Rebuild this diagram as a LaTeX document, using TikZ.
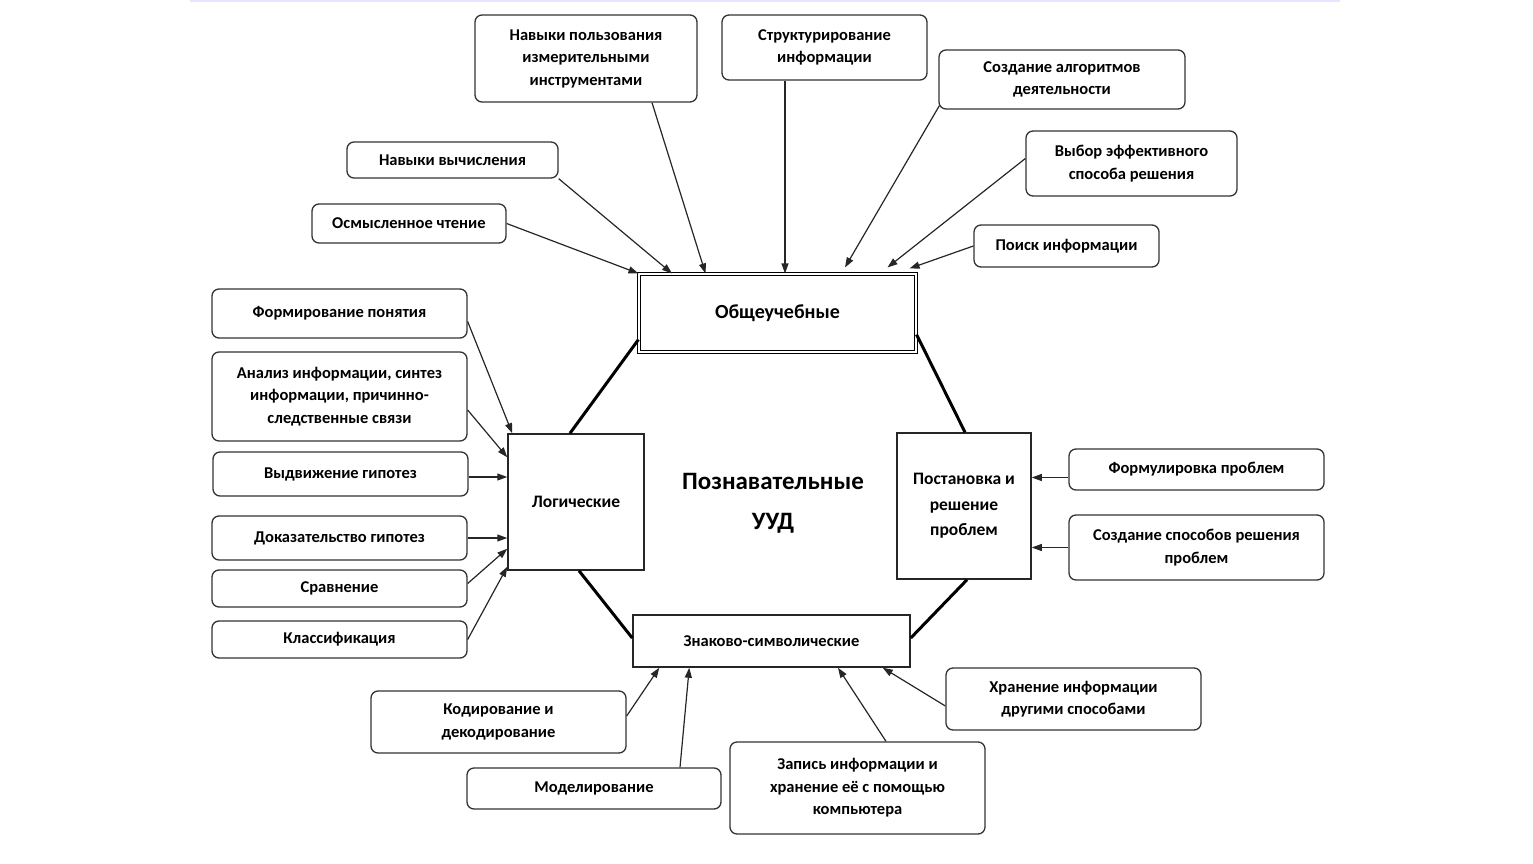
\documentclass[tikz,border=0pt]{standalone}
\usepackage{fontspec}
\setmainfont{Carlito}
\usetikzlibrary{arrows.meta}
\begin{document}
\begin{tikzpicture}[x=1pt,y=-1pt,
  rbox/.style={draw=black!80,line width=1.3pt,rounded corners=7pt,align=center,
    font=\bfseries\fontsize{16.5}{22.5}\selectfont,inner sep=2pt},
  sbox/.style={draw=black!85,line width=1.5pt,align=center,
    font=\bfseries\fontsize{17.5}{25.5}\selectfont,inner sep=2pt},
  arr/.style={draw=black!85,line width=1.2pt,-{Triangle[length=10pt,width=7pt]}},
  thick line/.style={draw=black,line width=3pt}]
\useasboundingbox (0,0) rectangle (1533,864);
\draw[line width=2pt,blue!10] (190,1) -- (1340,1);
% top group
\node[rbox,minimum width=222,minimum height=87] (n1) at (586,58.5) {Навыки пользования\\измерительными\\инструментами};
\node[rbox,minimum width=205,minimum height=65] (n2) at (824.5,47.5) {Структурирование\\информации};
\node[rbox,minimum width=246,minimum height=59] (n3) at (1062,79.5) {Создание алгоритмов\\деятельности};
\node[rbox,minimum width=211,minimum height=65] (n4) at (1131.5,163.5) {Выбор эффективного\\способа решения};
\node[rbox,minimum width=185,minimum height=42] (n5) at (1066.5,246) {Поиск информации};
\node[rbox,minimum width=211,minimum height=36] (n6) at (452.5,160) {Навыки вычисления};
\node[rbox,minimum width=194,minimum height=39] (n7) at (409,223.5) {Осмысленное чтение};
\node[draw=black,line width=1.1pt,double=white,double distance=2.2pt,minimum width=277,minimum height=78,
  font=\bfseries\fontsize{20}{24}\selectfont] (obs) at (777.5,313) {Общеучебные};
% left group
\node[rbox,minimum width=255,minimum height=49] (f1) at (339.5,313.5) {Формирование понятия};
\node[rbox,minimum width=255,minimum height=89] (f2) at (339.5,396.5) {Анализ информации, синтез\\информации, причинно-\\следственные связи};
\node[rbox,minimum width=255,minimum height=44] (f3) at (340.5,474) {Выдвижение гипотез};
\node[rbox,minimum width=255,minimum height=44] (f4) at (339.5,538) {Доказательство гипотез};
\node[rbox,minimum width=255,minimum height=37] (f5) at (339.5,588.5) {Сравнение};
\node[rbox,minimum width=255,minimum height=37] (f6) at (339.5,639.5) {Классификация};
\node[sbox,minimum width=136,minimum height=136] (log) at (576,502) {Логические};
% centre
\node[align=center,font=\bfseries\fontsize{25}{40}\selectfont] (cen) at (773,503) {Познавательные\\УУД};
% right group
\node[sbox,minimum width=134,minimum height=146] (pos) at (964,506) {Постановка и\\решение\\проблем};
\node[rbox,minimum width=255,minimum height=41] (p1) at (1196.5,469.5) {Формулировка проблем};
\node[rbox,minimum width=255,minimum height=65] (p2) at (1196.5,547.5) {Создание способов решения\\проблем};
% bottom group
\node[sbox,minimum width=277,minimum height=52,font=\bfseries\fontsize{16.5}{22}\selectfont] (zn) at (771.5,641) {Знаково-символические};
\node[rbox,minimum width=255,minimum height=62] (z1) at (498.5,722) {Кодирование и\\декодирование};
\node[rbox,minimum width=254,minimum height=41] (z2) at (594,788.5) {Моделирование};
\node[rbox,minimum width=255,minimum height=92] (z3) at (857.5,788) {Запись информации и\\хранение её с помощью\\компьютера};
\node[rbox,minimum width=255,minimum height=62] (z4) at (1073.5,699) {Хранение информации\\другими способами};
% hexagon
\draw[thick line] ([yshift=13]obs.south west) -- ([xshift=-6]log.north);
\draw[thick line] ([yshift=18]obs.south east) -- ([xshift=1]pos.north);
\draw[thick line] ([xshift=3]log.south) -- ([yshift=3]zn.west);
\draw[thick line] ([xshift=3]pos.south) -- ([yshift=3]zn.east);
% arrows top
\draw[arr] ([xshift=66]n1.south) -- ([xshift=-72]obs.north);
\draw[arr] ([xshift=-39.5]n2.south) -- ([xshift=7.5]obs.north);
\draw[arr] ([xshift=1,yshift=4]n3.south west) -- ([xshift=67.5,yshift=6]obs.north);
\draw[arr] ([yshift=5]n4.west) -- ([xshift=110,yshift=6]obs.north);
\draw[arr] (n5.west) -- ([xshift=-7,yshift=5]obs.north east);
\draw[arr] (n6.south east) -- ([xshift=-105.5]obs.north);
\draw[arr] (n7.east) -- (obs.north west);
% arrows left
\draw[arr] ([yshift=-8]f1.east) -- ([xshift=5]log.north west);
\draw[arr] ([yshift=-13.5]f2.east) -- ([yshift=-24]log.north west);
\draw[arr] ([yshift=-3]f3.east) -- ([yshift=-3]f3.east -| log.west);
\draw[arr] (f4.east) -- (f4.east -| log.west);
\draw[arr] ([yshift=5]f5.east) -- ([yshift=22]log.south west);
\draw[arr] (f6.east) -- ([yshift=4]log.south west);
% arrows right
\draw[arr] ([yshift=-8]p1.west) -- ([yshift=-8]p1.west -| pos.east);
\draw[arr] (p2.west) -- (p2.west -| pos.east);
% arrows bottom
\draw[arr] ([yshift=6]z1.east) -- ([xshift=27]zn.south west);
\draw[arr] ([xshift=86]z2.north) -- ([xshift=57]zn.south west);
\draw[arr] ([xshift=28.5]z3.north) -- ([xshift=66.5]zn.south);
\draw[arr] ([yshift=-7]z4.west) -- ([xshift=-28]zn.south east);
\end{tikzpicture}
\end{document}
